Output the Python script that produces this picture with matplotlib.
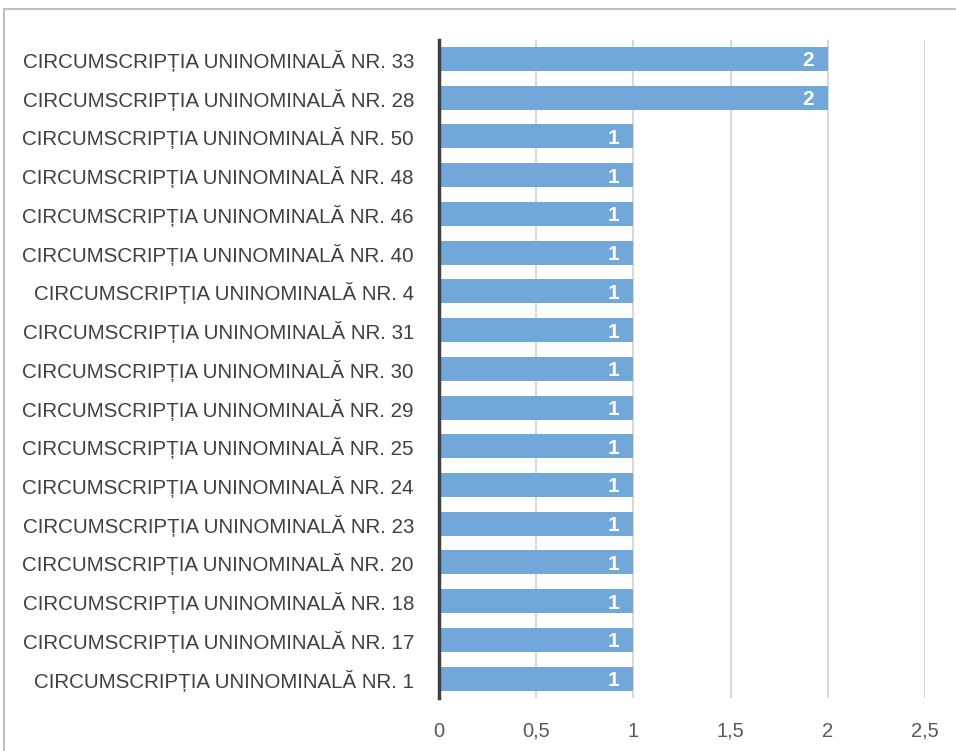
import matplotlib.pyplot as plt
from matplotlib.patches import Rectangle
from matplotlib.ticker import FuncFormatter

plt.rcParams['font.family'] = ['Liberation Sans Narrow', 'Liberation Sans', 'DejaVu Sans']

# top to bottom as in the chart
circ_nr = ["33", "28", "50", "48", "46", "40", "4", "31", "30", "29",
           "25", "24", "23", "20", "18", "17", "1"]
labels = ["CIRCUMSCRIPȚIA UNINOMINALĂ NR. " + n for n in circ_nr]
values = [2, 2, 1, 1, 1, 1, 1, 1, 1, 1, 1, 1, 1, 1, 1, 1, 1]
xticks = [0, 0.5, 1, 1.5, 2, 2.5]

fig = plt.figure(figsize=(9.56, 7.51), dpi=100)
ax = fig.add_axes([0.4592, 0.0706, 0.5084, 0.8767])

y = list(range(len(labels)))
ax.barh(y, values, height=0.62, color='#72a7da', zorder=2)
for yi, v in zip(y, values):
    ax.text(v - 0.07, yi, str(v), ha='right', va='center_baseline', color='white',
            fontsize=15, fontweight='bold', zorder=3)

ax.set_yticks(y)
ax.set_yticklabels(labels, fontsize=14.8, color='#404040')
ax.set_ylim(len(labels) - 0.5, -0.5)
ax.set_xlim(0, 2.5)
ax.set_xticks(xticks)
ax.xaxis.set_major_formatter(FuncFormatter(lambda v, p: ('%g' % v).replace('.', ',')))
ax.tick_params(axis='x', length=0, pad=17, labelsize=14.5, labelcolor='#595959')
ax.tick_params(axis='y', length=0, pad=18)
ax.grid(axis='x', color='#d9d9d9', linewidth=1.5, zorder=1)
ax.grid(axis='y', visible=False)
for s in ['top', 'right', 'bottom']:
    ax.spines[s].set_visible(False)
ax.spines['left'].set_color('#404040')
ax.spines['left'].set_linewidth(2.5)
ax.spines['left'].set_zorder(4)

# chart frame
fig.patches.append(Rectangle((4 / 956, -0.1), 1.2, 1 - 9 / 751 + 0.1,
                             transform=fig.transFigure, fill=False,
                             edgecolor='#bfbfbf', linewidth=1.5))

fig.savefig('out.png', dpi=100)
